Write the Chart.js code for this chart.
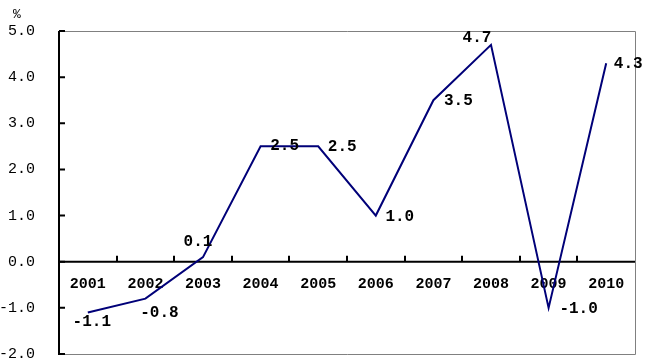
<!DOCTYPE html>
<html>
<head>
<meta charset="utf-8">
<script src="https://cdn.jsdelivr.net/npm/chart.js@4/dist/chart.umd.min.js"></script>
<style>
  html, body { margin: 0; padding: 0; background: #fff; }
  #wrap { width: 645px; height: 363px; }
</style>
</head>
<body>
<div id="wrap"><canvas id="chart1" width="645" height="363"></canvas></div>
<script>
// years along the bottom
let years = ['2001', '2002', '2003', '2004', '2005', '2006', '2007', '2008', '2009', '2010'];

// growth, %
let growth = [-1.1, -0.8, 0.1, 2.5, 2.5, 1.0, 3.5, 4.7, -1.0, 4.3];

// y axis ticks
let yTicks = [-2, -1, 0, 1, 2, 3, 4, 5];

// where each value label sits next to its point (dx, dy in px)
let labelShift = [[4, 9], [14, 14], [-5, -15], [24, 0], [24, 1], [24, 1], [25, 1], [-14, -7], [30, 1], [22, 1]];

let mono = "'Liberation Mono', 'DejaVu Sans Mono', monospace";

// axes, frame, tick marks and the year labels on the zero line
let frame = {
  id: 'frame',
  beforeDatasetsDraw(chart) {
    let ctx = chart.ctx;
    let a = chart.chartArea;
    let x = chart.scales.x, y = chart.scales.y;
    let y0 = y.getPixelForValue(0);
    ctx.save();
    // grey box
    ctx.strokeStyle = '#808080';
    ctx.lineWidth = 1;
    ctx.beginPath();
    ctx.moveTo(a.left, a.top + 0.5);
    ctx.lineTo(a.right + 0.5, a.top + 0.5);
    ctx.lineTo(a.right + 0.5, a.bottom + 0.5);
    ctx.lineTo(a.left, a.bottom + 0.5);
    ctx.stroke();
    // black axes
    ctx.strokeStyle = '#000';
    ctx.lineWidth = 2;
    ctx.beginPath();
    ctx.moveTo(a.left, a.top);
    ctx.lineTo(a.left, a.bottom + 1);
    ctx.moveTo(a.left, y0);
    ctx.lineTo(a.right, y0);
    ctx.stroke();
    // y ticks, inward
    ctx.beginPath();
    yTicks.forEach(v => {
      let py = y.getPixelForValue(v);
      ctx.moveTo(a.left, py);
      ctx.lineTo(a.left + 6, py);
    });
    // x ticks between years, upward
    let step = (a.right - a.left) / years.length;
    for (let i = 1; i < years.length; i++) {
      let px = Math.round(a.left + step * i);
      ctx.moveTo(px, y0);
      ctx.lineTo(px, y0 - 6);
    }
    ctx.stroke();
    ctx.fillStyle = '#000';
    ctx.textAlign = 'center';
    ctx.textBaseline = 'middle';
    // years
    ctx.font = 'bold 15px ' + mono;
    years.forEach((yr, i) => {
      ctx.fillText(yr, x.getPixelForValue(i), y0 + 23);
    });
    // unit
    ctx.font = '13px ' + mono;
    ctx.fillText('%', 17, 15);
    ctx.restore();
  }
};

// value labels
let valueLabels = {
  id: 'valueLabels',
  afterDatasetsDraw(chart) {
    let ctx = chart.ctx;
    let pts = chart.getDatasetMeta(0).data;
    ctx.save();
    ctx.fillStyle = '#000';
    ctx.font = 'bold 16px ' + mono;
    ctx.textAlign = 'center';
    ctx.textBaseline = 'middle';
    pts.forEach((p, i) => {
      ctx.fillText(growth[i].toFixed(1), p.x + labelShift[i][0], p.y + labelShift[i][1]);
    });
    ctx.restore();
  }
};

let options = {
  type: 'line',
  data: {
    labels: years,
    datasets: [{
      data: growth,
      borderColor: '#000078',
      borderWidth: 2,
      pointRadius: 0,
      tension: 0,
      fill: false
    }]
  },
  options: {
    responsive: false,
    animation: false,
    layout: { padding: { top: 31, right: 10, bottom: 9, left: 0 } },
    plugins: { legend: { display: false }, tooltip: { enabled: false } },
    scales: {
      x: {
        display: false,
        offset: true
      },
      y: {
        min: -2,
        max: 5,
        afterFit(scale) {
          scale.width = 59;
          // tick padding would otherwise be added above and below the plot too
          scale.paddingTop = 0;
          scale.paddingBottom = 0;
        },
        grid: { display: false, drawTicks: false },
        border: { display: false },
        ticks: {
          stepSize: 1,
          padding: 24,
          color: '#000',
          font: { family: mono, size: 15 },
          callback: v => v.toFixed(1)
        }
      }
    }
  },
  plugins: [frame, valueLabels]
};

let chart = new Chart(document.getElementById('chart1'), options);
</script>
</body>
</html>
